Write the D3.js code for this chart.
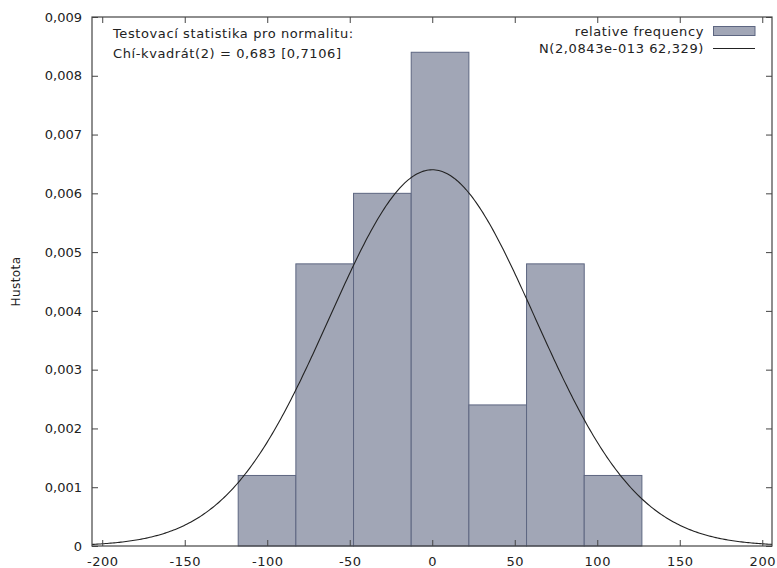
<!DOCTYPE html>
<html>
<head>
<meta charset="utf-8">
<script src="https://cdn.jsdelivr.net/npm/d3@7"></script>
<style>
  html, body { margin: 0; padding: 0; background: #fff; }
  svg { display: block; }
  text { font-family: "DejaVu Sans", Verdana, sans-serif; font-size: 13px; fill: #222; }
  .wide { letter-spacing: 0.6px; }
</style>
</head>
<body>
<script>
// Histogram of residuals with fitted normal density
const binEdges = [-117.6, -82.65, -47.7, -12.75, 22.2, 57.15, 92.1, 127.05];
const densities = [0.0012, 0.0048, 0.0060, 0.0084, 0.0024, 0.0048, 0.0012];
const normalMean = 2.0843e-13;
const normalSd = 62.329;
const xTicks = [-200, -150, -100, -50, 0, 50, 100, 150, 200];
const yTicks = [0, 0.001, 0.002, 0.003, 0.004, 0.005, 0.006, 0.007, 0.008, 0.009];
const yLabel = "Hustota";
const testLines = ["Testovací statistika pro normalitu:", "Chí-kvadrát(2) = 0,683 [0,7106]"];
const legendLabels = ["relative frequency", "N(2,0843e-013 62,329)"];

const W = 777, H = 568;
const plotLeft = 92, plotRight = 772, plotTop = 17, plotBottom = 546;

const svg = d3.select("body").append("svg").attr("width", W).attr("height", H);

const x = d3.scaleLinear().domain([-206.2, 205.9]).range([plotLeft, plotRight]);
const y = d3.scaleLinear().domain([0, 0.009]).range([plotBottom, plotTop]);

const fmtY = v => v === 0 ? "0" : d3.format(".3f")(v).replace(".", ",");
const fmtX = v => d3.format("d")(v).replace("−", "-");

// Bars
const bins = densities.map((d, i) => ({ x0: binEdges[i], x1: binEdges[i + 1], d }));
svg.append("g").selectAll("rect").data(bins).join("rect")
  .attr("x", b => x(b.x0))
  .attr("y", b => y(b.d))
  .attr("width", b => x(b.x1) - x(b.x0))
  .attr("height", b => y(0) - y(b.d))
  .attr("fill", "#a1a6b6")
  .attr("stroke", "#5d6681")
  .attr("stroke-width", 1);

// Fitted normal density curve
const pdf = v => Math.exp(-0.5 * ((v - normalMean) / normalSd) ** 2) / (normalSd * Math.sqrt(2 * Math.PI));
const [d0, d1] = x.domain();
const xs = d3.range(0, 401).map(i => d0 + (d1 - d0) * i / 400);
svg.append("path")
  .datum(xs)
  .attr("fill", "none")
  .attr("stroke", "#222")
  .attr("stroke-width", 1.1)
  .attr("d", d3.line().x(v => x(v)).y(v => y(pdf(v))));

// Axes with inward ticks, mirrored on the opposite sides
const tickLen = 6;
const axisColor = "#444";
const styleAxis = g => {
  g.select(".domain").remove();
  g.selectAll(".tick line").attr("stroke", axisColor);
  g.selectAll(".tick text").style("font-family", "DejaVu Sans, Verdana, sans-serif").style("font-size", "13px").attr("fill", "#222");
};

svg.append("g").attr("transform", `translate(0,${plotBottom})`)
  .call(d3.axisBottom(x).tickValues(xTicks).tickSizeInner(-tickLen).tickSizeOuter(0).tickPadding(11).tickFormat(fmtX))
  .call(styleAxis)
  .call(g => g.selectAll(".tick text").style("letter-spacing", "0.5px"));
svg.append("g").attr("transform", `translate(0,${plotTop})`)
  .call(d3.axisTop(x).tickValues(xTicks).tickSizeInner(-tickLen).tickSizeOuter(0).tickFormat(""))
  .call(styleAxis);
svg.append("g").attr("transform", `translate(${plotLeft},0)`)
  .call(d3.axisLeft(y).tickValues(yTicks).tickSizeInner(-tickLen).tickSizeOuter(0).tickPadding(10).tickFormat(fmtY))
  .call(styleAxis);
svg.append("g").attr("transform", `translate(${plotRight},0)`)
  .call(d3.axisRight(y).tickValues(yTicks).tickSizeInner(-tickLen).tickSizeOuter(0).tickFormat(""))
  .call(styleAxis);

// Frame
svg.append("rect")
  .attr("x", plotLeft).attr("y", plotTop)
  .attr("width", plotRight - plotLeft).attr("height", plotBottom - plotTop)
  .attr("fill", "none").attr("stroke", axisColor).attr("stroke-width", 1.2);

// Y axis title
svg.append("text")
  .attr("transform", `translate(20,${(plotTop + plotBottom) / 2}) rotate(-90)`)
  .attr("text-anchor", "middle")
  .style("font-size", "12px")
  .style("letter-spacing", "0.4px")
  .text(yLabel);

// Normality test annotation
svg.append("g").selectAll("text").data(testLines).join("text")
  .attr("class", "wide")
  .attr("x", 113)
  .attr("y", (d, i) => 38 + i * 19.5)
  .text(d => d);

// Legend
const lg = svg.append("g");
lg.selectAll("text").data(legendLabels).join("text")
  .attr("class", "wide")
  .attr("x", 704)
  .attr("y", (d, i) => 36 + i * 16.5)
  .attr("text-anchor", "end")
  .text(d => d);
lg.append("rect")
  .attr("x", 713.5).attr("y", 26.5).attr("width", 41.5).attr("height", 9)
  .attr("fill", "#a1a6b6").attr("stroke", "#5d6681");
lg.append("line")
  .attr("x1", 713).attr("x2", 755).attr("y1", 48.5).attr("y2", 48.5)
  .attr("stroke", "#222").attr("stroke-width", 1.2);
</script>
</body>
</html>
